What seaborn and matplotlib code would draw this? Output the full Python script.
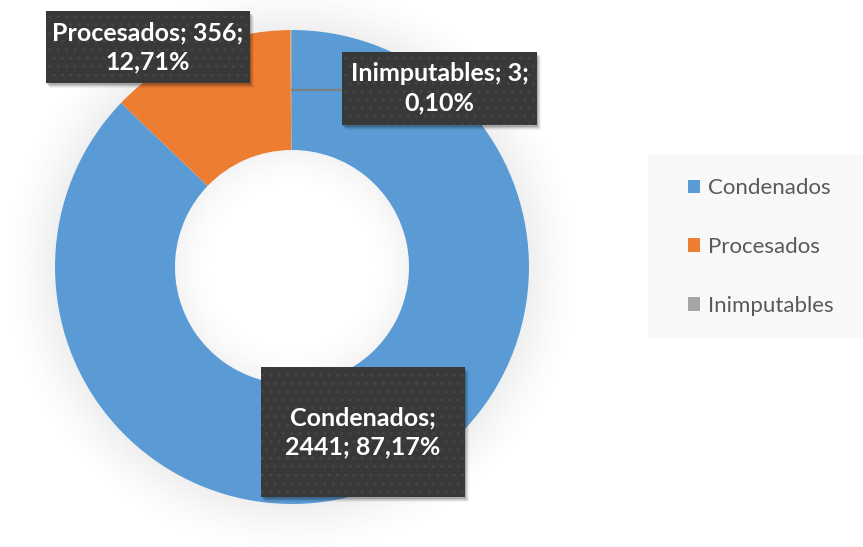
import numpy as np
import matplotlib
matplotlib.use("Agg")
import matplotlib.pyplot as plt
import seaborn as sns
from matplotlib.patches import Wedge, Rectangle, Patch

# Datos
categorias = ["Condenados", "Procesados", "Inimputables"]
valores = [2441, 356, 3]
porcentajes = ["87,17%", "12,71%", "0,10%"]
colores = ["#5B9BD5", "#ED7D31", "#A5A5A5"]

# textos de las etiquetas (como en el original)
etiquetas = [
    f"{categorias[0]};\n{valores[0]}; {porcentajes[0]}",
    f"{categorias[1]}; {valores[1]};\n{porcentajes[1]}",
    f"{categorias[2]}; {valores[2]};\n{porcentajes[2]}",
]

sns.set_theme(style="white")
plt.rcParams["font.family"] = ["Lato", "DejaVu Sans"]
plt.rcParams["hatch.linewidth"] = 1.0

W, H = 863, 547
fig = plt.figure(figsize=(W / 100, H / 100), dpi=100)
ax = fig.add_axes([0, 0, 1, 1])

def fy(y):
    return H - y

cx, cy = 292, fy(267)
R, r = 237, 117

# halo exterior
for d in np.arange(0, 48, 1.5):
    a = 0.16 * (1 - d / 48) ** 1.5
    ax.add_patch(Wedge((cx, cy), R + d + 1.5, 0, 360, width=1.5, color="#a0a0a0",
                       alpha=a, lw=0, zorder=0))

ax.pie(valores, colors=colores, startangle=90, counterclock=False,
       radius=R, center=(cx, cy),
       wedgeprops=dict(width=R - r, edgecolor="none", linewidth=0))

# sombra interior del hueco
for d in np.arange(0, 34, 1.5):
    a = 0.11 * (1 - d / 34) ** 1.5
    ax.add_patch(Wedge((cx, cy), r - d, 0, 360, width=1.5, color="#a0a0a0",
                       alpha=a, lw=0, zorder=3))

# linea guia de Inimputables
total = sum(valores)
ang = 90 + 360 * valores[2] / total / 2
rm = (R + r) / 2
px, py = cx + rm * np.cos(np.radians(ang)), cy + rm * np.sin(np.radians(ang))
ax.plot([px, 342], [py, py], color="#7f7f7f", lw=1.6, zorder=4, solid_capstyle="butt")

# cajas de etiquetas (x0, y0, x1, y1 en pixeles de imagen)
cajas = [(261, 367, 465, 497), (46, 11, 250, 83), (342, 52, 537, 125)]
for (x0, y0, x1, y1), txt in zip(cajas, etiquetas):
    for k, al in [(5, 0.05), (4, 0.07), (3, 0.10), (2, 0.14)]:
        ax.add_patch(Rectangle((x0 + k - 1, fy(y1) - k), x1 - x0, y1 - y0,
                               fc="#000000", alpha=al, lw=0, zorder=5))
    ax.add_patch(Rectangle((x0, fy(y1)), x1 - x0, y1 - y0, fc="#383838",
                           ec="#444444", lw=0, hatch="..", zorder=6))
    ax.text((x0 + x1) / 2, fy((y0 + y1) / 2), txt, ha="center", va="center",
            color="white", fontsize=18, fontweight="bold", linespacing=1.32,
            zorder=7)

# fondo de la leyenda
ax.add_patch(Rectangle((648, fy(338)), W - 648, 338 - 155, fc="#f8f8f8", lw=0, zorder=1))

handles = [Patch(facecolor=c, edgecolor="none", label=n) for c, n in zip(colores, categorias)]
leg = ax.legend(handles=handles, loc="center", bbox_to_anchor=(761 / W, 1 - 247 / H),
                frameon=False, fontsize=16, labelcolor="#595959",
                handlelength=0.55, handleheight=0.55, handletextpad=0.35,
                labelspacing=1.75, borderpad=0, borderaxespad=0)
leg.set_zorder(8)

ax.set_xlim(0, W)
ax.set_ylim(0, H)
ax.set_aspect("equal")
ax.axis("off")

fig.savefig("out.png", dpi=100, facecolor="white")
